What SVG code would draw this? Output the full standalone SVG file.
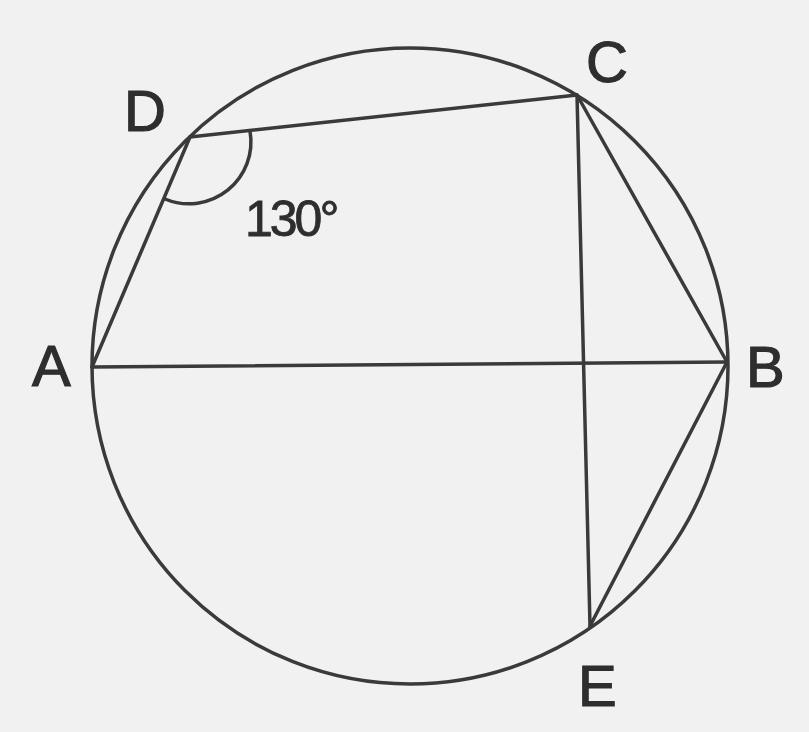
<svg xmlns="http://www.w3.org/2000/svg" width="809" height="732" viewBox="0 0 809 732">
<style>
.ln{stroke:#3a3a3a;stroke-width:3.5;fill:none;stroke-linecap:round}
.lb{font-family:"Liberation Sans",Arial,sans-serif;font-size:58px;fill:#2e2e2e;stroke:#2e2e2e;stroke-width:1.2}
.ang{font-family:"Liberation Sans",Arial,sans-serif;font-size:50px;fill:#2e2e2e;stroke:#2e2e2e;stroke-width:0.8;letter-spacing:-3px}
</style>
<rect width="809" height="732" fill="#f1f1f1"/>
<g id="circle"><circle class="ln" cx="410" cy="366" r="318"/></g>
<g id="connectors">
<line class="ln" x1="92" y1="367" x2="727" y2="362"/>
<line class="ln" x1="92" y1="367" x2="190" y2="137"/>
<line class="ln" x1="190" y1="137" x2="577" y2="95"/>
<line class="ln" x1="577" y1="95" x2="727" y2="362"/>
<line class="ln" x1="727" y1="362" x2="590" y2="626"/>
<line class="ln" x1="577" y1="95" x2="590" y2="626"/>
<path class="ln" d="M250,131 A62,62 0 0 1 165,199"/>
</g>
<g id="A"><text class="lb" x="32" y="386">A</text></g>
<g id="B"><text class="lb" x="746" y="387">B</text></g>
<g id="C"><text class="lb" x="586" y="82">C</text></g>
<g id="D"><text class="lb" x="124" y="131">D</text></g>
<g id="E"><text class="lb" x="578" y="706">E</text></g>
<g id="angle"><text class="ang" x="245" y="236">130°</text></g>
</svg>
